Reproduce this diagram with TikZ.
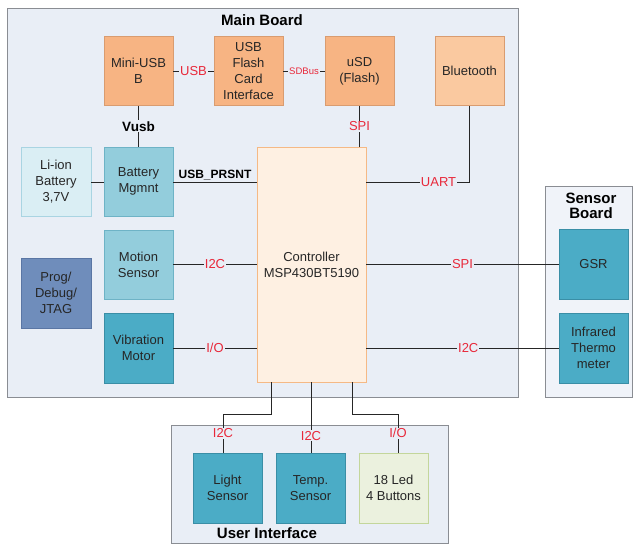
\documentclass[tikz,border=0pt]{standalone}
\usepackage{fontspec}
\setmainfont{Liberation Sans}
\definecolor{boardbg}{HTML}{E9EEF6}
\definecolor{boardln}{HTML}{8A8D93}
\definecolor{orfill}{HTML}{F7B483}
\definecolor{orline}{HTML}{D99C70}
\definecolor{btfill}{HTML}{FAC9A0}
\definecolor{ctfill}{HTML}{FEF0E2}
\definecolor{ctline}{HTML}{F5B985}
\definecolor{ltfill}{HTML}{DAEEF4}
\definecolor{ltline}{HTML}{A9D4E2}
\definecolor{mdfill}{HTML}{93CDDC}
\definecolor{mdline}{HTML}{6EB3C6}
\definecolor{dkfill}{HTML}{4BACC6}
\definecolor{dkline}{HTML}{3A8EA6}
\definecolor{pgfill}{HTML}{6F8DBB}
\definecolor{pgline}{HTML}{5A76A4}
\definecolor{gnfill}{HTML}{EBF1DE}
\definecolor{gnline}{HTML}{C3D69B}
\definecolor{lblred}{HTML}{E8283A}
\definecolor{txt}{HTML}{262626}
\begin{document}
\begin{tikzpicture}[x=1pt,y=-1pt,
  every node/.style={font=\fontsize{13}{16}\selectfont, text=txt},
  board/.style={draw=boardln, line width=1pt},
  blk/.style={draw, line width=0.8pt, align=center, minimum width=69pt, minimum height=69pt, inner sep=1pt},
  orbox/.style={blk, fill=orfill, draw=orline},
  btbox/.style={blk, fill=btfill, draw=orline},
  ltbox/.style={blk, fill=ltfill, draw=ltline},
  mdbox/.style={blk, fill=mdfill, draw=mdline},
  dkbox/.style={blk, fill=dkfill, draw=dkline},
  pgbox/.style={blk, fill=pgfill, draw=pgline},
  gnbox/.style={blk, fill=gnfill, draw=gnline},
  title/.style={font=\fontsize{15}{17}\selectfont\bfseries, text=black, align=center},
  lbl/.style={text=lblred, fill=boardbg, inner sep=1pt},
  blbl/.style={font=\fontsize{13.5}{16}\selectfont\bfseries, text=black, inner sep=1pt},
  wire/.style={draw=black!85, line width=1pt}]
\useasboundingbox (0,0) rectangle (637,546);
% boards
\path[board, fill=boardbg] (7,8) rectangle (518,397);
\path[board, fill=boardbg!70!white] (545,186) rectangle (632,397);
\path[board, fill=boardbg] (171,425) rectangle (448,543);
\node[title] (tmain) at (262,20) {Main Board};
\node[title] (tsens) at (591,206) {Sensor\\[-2pt]Board};
\node[title] (tui) at (267,533) {User Interface};
% blocks
\node[orbox] (mini) at (138.5,71) {Mini-USB\\B};
\node[orbox] (flash) at (248.5,71) {USB\\Flash\\Card\\Interface};
\node[orbox] (usd) at (359.5,71) {uSD\\(Flash)};
\node[btbox] (bt) at (469.5,71) {Bluetooth};
\node[ltbox, minimum width=70pt] (liion) at (56,181.5) {Li-ion\\Battery\\3,7V};
\node[mdbox] (batt) at (138.5,181.5) {Battery\\Mgmnt};
\node[blk, fill=ctfill, draw=ctline, minimum width=109pt, minimum height=235pt] (ctrl) at (311.5,264.5) {Controller\\MSP430BT5190};
\node[mdbox] (motion) at (138.5,264.5) {Motion\\Sensor};
\node[pgbox, minimum width=70pt, minimum height=70pt] (prog) at (56,293) {Prog/\\Debug/\\JTAG};
\node[dkbox, minimum height=70pt] (vib) at (138.5,348) {Vibration\\Motor};
\node[dkbox, minimum height=70pt] (gsr) at (593.5,264) {GSR};
\node[dkbox, minimum height=70pt] (ir) at (593.5,348) {Infrared\\Thermo\\meter};
\node[dkbox, minimum height=70pt] (light) at (227.5,488) {Light\\Sensor};
\node[dkbox, minimum height=70pt] (temp) at (310.5,488) {Temp.\\Sensor};
\node[gnbox, minimum height=70pt] (led) at (393.5,488) {18 Led\\4 Buttons};
% connectors
\draw[wire] (mini) -- node[lbl]{USB} (flash);
\draw[wire] (flash) -- node[lbl, font=\fontsize{9.5}{10}\selectfont]{SDBus} (usd);
\draw[wire] (mini) -- node[blbl, fill=boardbg]{Vusb} (batt);
\draw[wire] (liion.east |- 0,182) -- (batt.west |- 0,182);
\draw[wire] (batt.east |- 0,182) -- node[blbl, font=\fontsize{12}{14}\selectfont\bfseries, above=1pt]{USB\_PRSNT} (ctrl.west |- 0,182);
\draw[wire] (usd.south) -- node[lbl]{SPI} (usd.south |- ctrl.north);
\coordinate (u1) at (469.5,182);
\draw[wire] (bt.south) -- (u1) -- node[lbl, pos=0.3]{UART} (u1 -| ctrl.east);
\draw[wire] (motion.east) -- node[lbl]{I2C} (motion.east -| ctrl.west);
\draw[wire] (vib.east) -- node[lbl]{I/O} (vib.east -| ctrl.west);
\draw[wire] (gsr.west -| ctrl.east) -- node[lbl, pos=0.5]{SPI} (gsr.west);
\draw[wire] (ir.west -| ctrl.east) -- node[lbl, pos=0.53]{I2C} (ir.west);
\coordinate (c1) at (271,382);
\coordinate (c2) at (311,382);
\coordinate (c3) at (352,382);
\coordinate (k1) at (223,414);
\coordinate (k3) at (398,414);
\draw[wire] (c1) |- (k1) -- node[lbl]{I2C} (k1 |- light.north);
\draw[wire] (c2) -- node[lbl, pos=0.76]{I2C} (c2 |- temp.north);
\draw[wire] (c3) |- (k3) -- node[lbl]{I/O} (k3 |- led.north);
\end{tikzpicture}
\end{document}
